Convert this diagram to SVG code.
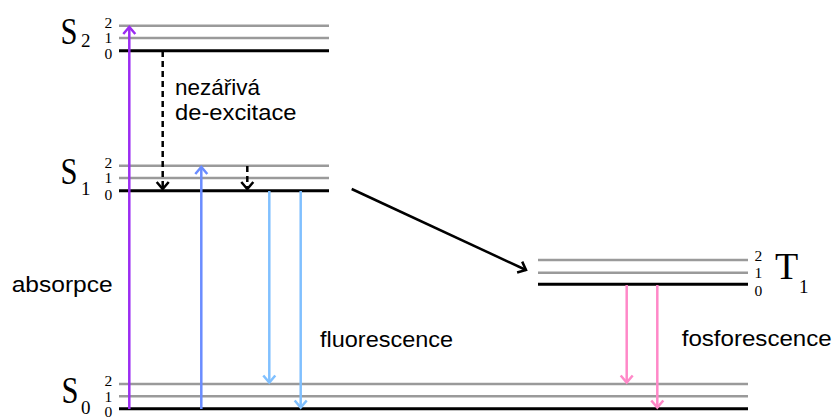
<svg xmlns="http://www.w3.org/2000/svg" width="832" height="417" viewBox="0 0 832 417">
  <style>
    .vib { stroke: #9a9a9a; stroke-width: 2.5; fill: none; }
    .ground { stroke: #000; stroke-width: 3; fill: none; }
    .state { font-family: "Liberation Serif", "Times New Roman", serif; font-size: 38px; fill: #000; }
    .sub { font-family: "Liberation Serif", "Times New Roman", serif; font-size: 19px; fill: #000; }
    .num { font-family: "Liberation Serif", "Times New Roman", serif; font-size: 15.5px; fill: #000; }
    .lbl { font-family: "Liberation Sans", Arial, sans-serif; font-size: 22.5px; fill: #000; }
    .arr { fill: none; stroke-width: 2.5; }
  </style>
  <defs>
    <marker id="head-purple" markerUnits="userSpaceOnUse" orient="auto" markerWidth="20" markerHeight="20" viewBox="-10 -10 20 20" refX="0" refY="0" overflow="visible">
      <path d="M-7,-6 L0,0 L-7,6" fill="none" stroke="#9b2cf2" stroke-width="2.5"/>
    </marker>
    <marker id="head-blue" markerUnits="userSpaceOnUse" orient="auto" markerWidth="20" markerHeight="20" viewBox="-10 -10 20 20" refX="0" refY="0" overflow="visible">
      <path d="M-7,-6 L0,0 L-7,6" fill="none" stroke="#6a8cff" stroke-width="2.5"/>
    </marker>
    <marker id="head-light" markerUnits="userSpaceOnUse" orient="auto" markerWidth="20" markerHeight="20" viewBox="-10 -10 20 20" refX="0" refY="0" overflow="visible">
      <path d="M-7,-6 L0,0 L-7,6" fill="none" stroke="#80c0ff" stroke-width="2.5"/>
    </marker>
    <marker id="head-pink" markerUnits="userSpaceOnUse" orient="auto" markerWidth="20" markerHeight="20" viewBox="-10 -10 20 20" refX="0" refY="0" overflow="visible">
      <path d="M-7,-6 L0,0 L-7,6" fill="none" stroke="#ff88c8" stroke-width="2.5"/>
    </marker>
    <marker id="head-black" markerUnits="userSpaceOnUse" orient="auto" markerWidth="20" markerHeight="20" viewBox="-10 -10 20 20" refX="0" refY="0" overflow="visible">
      <path d="M-7,-6 L0,0 L-7,6" fill="none" stroke="#000" stroke-width="2.5"/>
    </marker>
  </defs>

  <!-- S2 -->
  <g id="S2">
    <line class="vib" x1="119" y1="25.7" x2="329" y2="25.7"/>
    <line class="vib" x1="119" y1="38" x2="329" y2="38"/>
    <line class="ground" x1="119" y1="50.7" x2="329" y2="50.7"/>
    <text class="state" x="60.5" y="44" textLength="17" lengthAdjust="spacingAndGlyphs">S</text>
    <text class="sub" x="81" y="46.5">2</text>
    <text class="num" x="104.5" y="28">2</text>
    <text class="num" x="104.5" y="43">1</text>
    <text class="num" x="104.5" y="59">0</text>
  </g>

  <!-- S1 -->
  <g id="S1">
    <line class="vib" x1="119" y1="165.7" x2="329" y2="165.7"/>
    <line class="vib" x1="119" y1="178" x2="329" y2="178"/>
    <line class="ground" x1="119" y1="190.7" x2="329" y2="190.7"/>
    <text class="state" x="60.5" y="184" textLength="17" lengthAdjust="spacingAndGlyphs">S</text>
    <text class="sub" x="81" y="195">1</text>
    <text class="num" x="104.5" y="167.5">2</text>
    <text class="num" x="104.5" y="182.5">1</text>
    <text class="num" x="104.5" y="199.5">0</text>
  </g>

  <!-- S0 -->
  <g id="S0">
    <line class="vib" x1="119" y1="384" x2="748" y2="384"/>
    <line class="vib" x1="119" y1="396.3" x2="748" y2="396.3"/>
    <line class="ground" x1="119" y1="408.7" x2="748" y2="408.7"/>
    <text class="state" x="61.5" y="402.5" textLength="17" lengthAdjust="spacingAndGlyphs">S</text>
    <text class="sub" x="81" y="413.5">0</text>
    <text class="num" x="104.5" y="386.3">2</text>
    <text class="num" x="104.5" y="402.3">1</text>
    <text class="num" x="104.5" y="416.5">0</text>
  </g>

  <!-- T1 -->
  <g id="T1">
    <line class="vib" x1="538" y1="260" x2="748" y2="260"/>
    <line class="vib" x1="538" y1="272.7" x2="748" y2="272.7"/>
    <line class="ground" x1="538" y1="284.3" x2="748" y2="284.3"/>
    <text class="state" x="775" y="279" font-size="36">T</text>
    <text class="sub" x="799" y="292.5">1</text>
    <text class="num" x="754.5" y="260.7">2</text>
    <text class="num" x="754.5" y="278.3">1</text>
    <text class="num" x="754.5" y="295.8">0</text>
  </g>

  <!-- transitions -->
  <g id="connectors">
    <line class="arr" stroke="#9b2cf2" x1="129.3" y1="409" x2="129.3" y2="27" marker-end="url(#head-purple)"/>
    <line class="arr" stroke="#6a8cff" x1="201.3" y1="409" x2="201.3" y2="167" marker-end="url(#head-blue)"/>
    <line class="arr" stroke="#000" stroke-width="2" stroke-dasharray="6,4" x1="162.7" y1="51" x2="162.7" y2="189" marker-end="url(#head-black)"/>
    <line class="arr" stroke="#000" stroke-width="2" stroke-dasharray="6,4" x1="247.3" y1="166" x2="247.3" y2="189" marker-end="url(#head-black)"/>
    <line class="arr" stroke="#80c0ff" x1="269.3" y1="191" x2="269.3" y2="382.5" marker-end="url(#head-light)"/>
    <line class="arr" stroke="#80c0ff" x1="300.7" y1="191" x2="300.7" y2="407.5" marker-end="url(#head-light)"/>
    <line class="arr" stroke="#000" stroke-width="3" x1="351.7" y1="189" x2="526" y2="270" marker-end="url(#head-black)"/>
    <line class="arr" stroke="#ff88c8" x1="626.7" y1="285" x2="626.7" y2="382.5" marker-end="url(#head-pink)"/>
    <line class="arr" stroke="#ff88c8" x1="657.3" y1="285" x2="657.3" y2="407.5" marker-end="url(#head-pink)"/>
  </g>

  <!-- labels -->
  <g id="labels">
    <text class="lbl" x="175" y="95" textLength="85" lengthAdjust="spacingAndGlyphs">nezářivá</text>
    <text class="lbl" x="175" y="120" textLength="121.5" lengthAdjust="spacingAndGlyphs">de-excitace</text>
    <text class="lbl" x="11.7" y="291.7" textLength="101" lengthAdjust="spacingAndGlyphs">absorpce</text>
    <text class="lbl" x="320" y="346.5" textLength="133" lengthAdjust="spacingAndGlyphs">fluorescence</text>
    <text class="lbl" x="681.7" y="346" textLength="150" lengthAdjust="spacingAndGlyphs">fosforescence</text>
  </g>
</svg>
